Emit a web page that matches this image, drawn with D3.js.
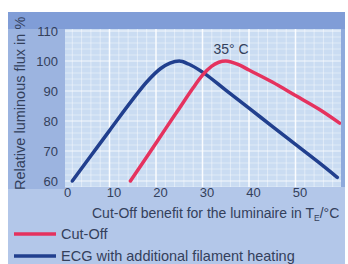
<!DOCTYPE html>
<html><head><meta charset="utf-8">
<script src="https://cdn.jsdelivr.net/npm/d3@7"></script>
<style>html,body{margin:0;padding:0;background:#fff;}svg{display:block;}</style>
</head><body>
<script>
// Data
const xTicks = [0, 10, 20, 30, 40, 50];
const yTicks = [60, 70, 80, 90, 100, 110];
const ecgX = [2, 6, 10, 15, 18, 21, 23, 25, 27, 30, 35, 40, 45, 50, 55, 59];
const ecgY = [60, 68.4, 76.8, 87.2, 93, 97.5, 99.3, 100, 99, 96.3, 90.3, 84.3, 78.2, 72.2, 66.2, 61.2];
const cutX = [14.5, 18, 22, 25, 28, 30, 32, 35, 38, 40, 45, 50, 55, 59.5];
const cutY = [60, 68, 77.3, 84.2, 91.1, 95.3, 98.3, 100, 98.6, 97, 93, 88.5, 84, 79.3];
const seriesNames = ["Cut-Off", "ECG with additional filament heating"];
const annotation = "35° C";
const xTitle = "Cut-Off benefit for the luminaire in T";
const yTitle = "Relative luminous flux in %";

const W = 348, H = 264;
const svg = d3.select("body").append("svg").attr("width", W).attr("height", H);
const font = "'Liberation Sans', Arial, sans-serif";
const textCol = "#33405b";

// Panel
const panel = {x0: 8, y0: 12, x1: 345, y1: 264};
const plot = {x0: 65, y0: 29, x1: 341, y1: 187};
svg.append("rect").attr("x", panel.x0).attr("y", panel.y0).attr("width", panel.x1 - panel.x0).attr("height", panel.y1 - panel.y0).attr("fill", "#b3c7e9");
svg.append("rect").attr("x", panel.x0).attr("y", panel.y0).attr("width", panel.x1 - panel.x0).attr("height", plot.y0 - panel.y0).attr("fill", "#809dd7");
svg.append("rect").attr("x", panel.x0).attr("y", plot.y0).attr("width", plot.x0 - panel.x0).attr("height", 160).attr("fill", "#9cb4e0");
svg.append("rect").attr("x", plot.x1).attr("y", plot.y0).attr("width", panel.x1 - plot.x1).attr("height", plot.y1 - plot.y0).attr("fill", "#8eaadc");

const defs = svg.append("defs");
defs.append("clipPath").attr("id", "pclip").append("rect").attr("x", panel.x0).attr("y", panel.y0).attr("width", panel.x1 - panel.x0).attr("height", panel.y1 - panel.y0);
defs.append("clipPath").attr("id", "plotclip").append("rect").attr("x", plot.x0).attr("y", plot.y0).attr("width", plot.x1 - plot.x0).attr("height", plot.y1 - plot.y0);

const x = d3.scaleLinear().domain([0, 60]).range([63, 342]);
const y = d3.scaleLinear().domain([60, 110]).range([181, 31]);

svg.append("rect").attr("x", plot.x0).attr("y", plot.y0).attr("width", plot.x1 - plot.x0).attr("height", plot.y1 - plot.y0).attr("fill", "#cadcf2");

// grid
const g = svg.append("g").attr("clip-path", "url(#plotclip)");
const minorX = d3.range(0, 62, 2), minorY = d3.range(56, 112, 2);
g.selectAll(".vx").data(minorX).join("line")
  .attr("x1", d => x(d)).attr("x2", d => x(d)).attr("y1", plot.y0).attr("y2", plot.y1)
  .attr("stroke", "#fff").attr("stroke-opacity", d => d % 10 === 0 ? 0.9 : 0.45).attr("stroke-width", d => d % 10 === 0 ? 1.5 : 1);
g.selectAll(".hy").data(minorY).join("line")
  .attr("y1", d => y(d)).attr("y2", d => y(d)).attr("x1", plot.x0).attr("x2", plot.x1)
  .attr("stroke", "#fff").attr("stroke-opacity", d => d % 10 === 0 ? 0.8 : 0.4).attr("stroke-width", 1);

// axes labels via d3 axes
const yAxis = svg.append("g").attr("transform", `translate(58,0)`)
  .call(d3.axisLeft(y).tickValues(yTicks).tickSize(0).tickPadding(0));
yAxis.select(".domain").remove();
yAxis.selectAll("text").attr("font-family", font).attr("font-size", 13).attr("fill", textCol);

const xAxis = svg.append("g").attr("transform", `translate(4,188)`)
  .call(d3.axisBottom(x).tickValues(xTicks).tickSize(0).tickPadding(0));
xAxis.select(".domain").remove();
xAxis.selectAll("text").attr("font-family", font).attr("font-size", 13).attr("fill", textCol).attr("dy", "0.71em");

// lines
const line = d3.line().curve(d3.curveMonotoneX);
g.append("path").attr("d", line(ecgX.map((d, i) => [x(d), y(ecgY[i])])))
  .attr("fill", "none").attr("stroke", "#213f8e").attr("stroke-width", 3.5).attr("stroke-linecap", "round");
g.append("path").attr("d", line(cutX.map((d, i) => [x(d), y(cutY[i])])))
  .attr("fill", "none").attr("stroke", "#e5325e").attr("stroke-width", 3.5).attr("stroke-linecap", "round");

svg.append("text").attr("x", 231).attr("y", 54).attr("text-anchor", "middle")
  .attr("font-family", font).attr("font-size", 14).attr("fill", textCol).text(annotation);

// titles
const cg = svg.append("g").attr("clip-path", "url(#pclip)");
const xt = cg.append("text").attr("x", 92).attr("y", 218).attr("font-family", font).attr("font-size", 14).attr("fill", textCol);
xt.append("tspan").text(xTitle);
xt.append("tspan").attr("font-size", 8.5).attr("dy", 3).text("E");
xt.append("tspan").attr("dy", -3).text("/°C");
cg.append("text").attr("transform", "translate(25,190) rotate(-90)").attr("font-family", font).attr("font-size", 14.5).attr("fill", textCol).text(yTitle);

// legend
const legCols = ["#e5325e", "#213f8e"];
const legY = [234, 256];
seriesNames.forEach((n, i) => {
  svg.append("line").attr("x1", 14).attr("x2", 56).attr("y1", legY[i]).attr("y2", legY[i]).attr("stroke", legCols[i]).attr("stroke-width", 3.5);
  svg.append("text").attr("x", 61).attr("y", legY[i] + 5).attr("font-family", font).attr("font-size", 14.5).attr("fill", textCol).text(n);
});
</script>
</body></html>
